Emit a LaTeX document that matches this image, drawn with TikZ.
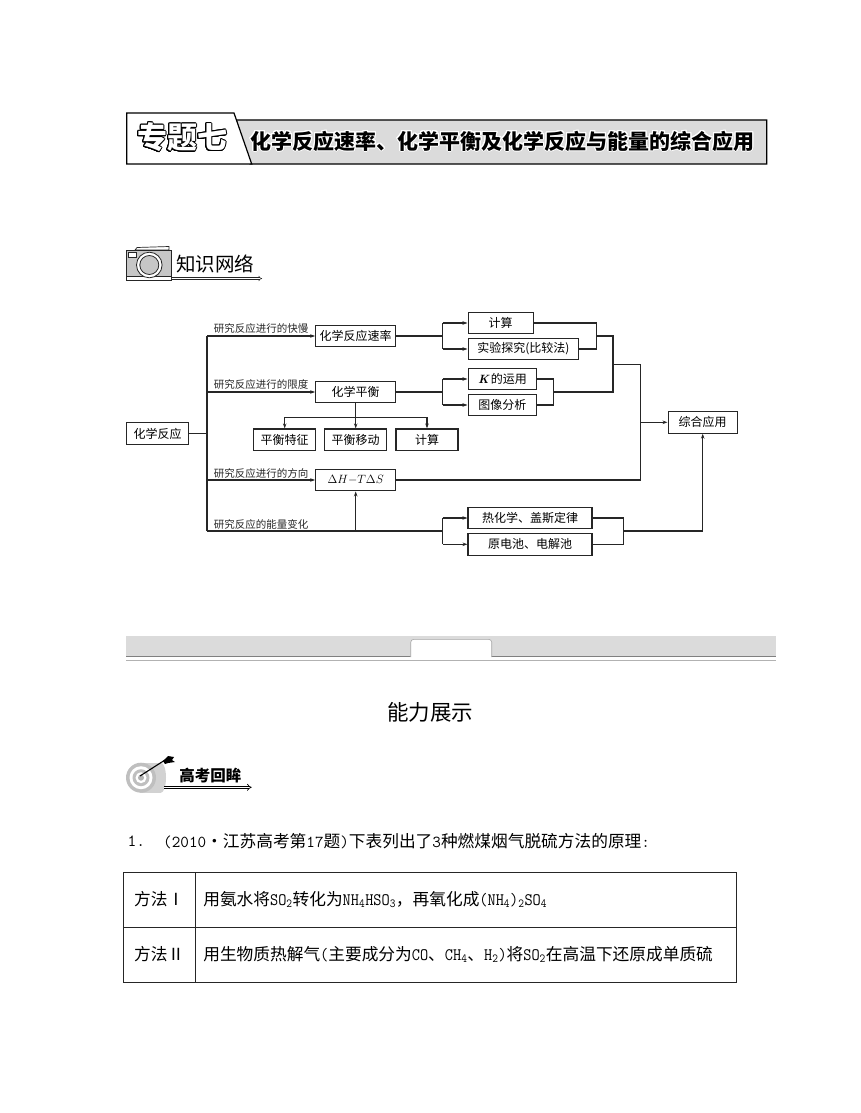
\documentclass[tikz,border=0pt]{standalone}
\usepackage{fontspec}
\usepackage[copies]{contour}
\usetikzlibrary{arrows.meta,calc}
\newfontfamily\cjk{Noto Sans CJK SC}
\definecolor{bandgray}{gray}{0.86}
\definecolor{inkgray}{gray}{0.15}
\contournumber{24}
\newcommand{\nartt}[1]{\scalebox{0.95}[1.05]{\ttfamily #1}}
\begin{document}
\begin{tikzpicture}[x=1pt,y=-1pt]
\useasboundingbox (0,0) rectangle (860,1113);
\tikzstyle{chartbox} = [rectangle,draw=inkgray,line width=1.1pt,inner sep=0pt,minimum height=21.7pt,font=\cjk\fontsize{12}{12}\selectfont]
\tikzstyle{branchlabel} = [inner sep=0pt,font=\cjk\fontsize{10.5}{10.5}\selectfont,text=inkgray]
\tikzstyle{chartline} = [draw=inkgray,line width=1.1pt]
\tikzstyle{heavyline} = [draw=inkgray,line width=1.6pt]
\tikzstyle{chartarrow} = [draw=inkgray,line width=1.1pt,-{Stealth[length=5pt,width=3.5pt]}]
\tikzstyle{tablecell} = [rectangle,draw=inkgray,line width=0.9pt,inner xsep=8pt,inner ysep=0pt,minimum height=55pt,font=\cjk\fontsize{16.7}{16.7}\selectfont]
%%%%%%%%%%%%%%%%%%%%%%%%%%%%%
% title banner
%%%%%%%%%%%%%%%%%%%%%%%%%%%%%
\draw [fill=bandgray,draw=black,line width=1.2pt] (236,120) -- (766.7,120) -- (766.7,164) -- (250,164) -- cycle;
\draw [fill=white,draw=black,line width=1.2pt] (126.7,164) -- (126.7,113) -- (234,113) -- (251.7,164) -- cycle;
\node (num) [inner sep=0pt,font=\cjk\bfseries\fontsize{30}{30}\selectfont] at (182,138){\contourlength{1pt}\contour{black}{\textcolor{white}{专题七}}};
\node (title) [inner sep=0pt,font=\cjk\bfseries\fontsize{21}{21}\selectfont] at (502.5,141.5){\contourlength{1pt}\contour{white}{化学反应速率、化学平衡及化学反应与能量的综合应用}};
%%%%%%%%%%%%%%%%%%%%%%%%%%%%%
% camera heading
%%%%%%%%%%%%%%%%%%%%%%%%%%%%%
\draw [fill=white,draw=inkgray,line width=0.7pt] (135,250) -- (137,247.5) -- (169,246.5) -- (169,250) -- cycle;
\draw [fill=gray!45,draw=inkgray,line width=0.8pt] (126.7,250) rectangle (171.7,280);
\draw [fill=white,draw=inkgray,line width=0.6pt] (126.7,276.7) rectangle (171.7,280);
\draw [fill=white,draw=inkgray,line width=0.6pt] (128.5,252.5) rectangle (136.5,257.5);
\draw [fill=white,draw=inkgray,line width=0.8pt] (149.3,265) circle (12.8);
\draw [fill=gray!45,draw=inkgray,line width=0.8pt] (149.3,265) circle (9.5);
\node (know) [inner sep=0pt,font=\cjk\fontsize{19.5}{19.5}\selectfont] at (215,263.5){知识网络};
\coordinate (knowtail) at (171.7,278.5);
\coordinate (knowhead) at (262,278.5);
\draw [double=white,double distance=1.3pt,draw=inkgray,line width=0.5pt,-{Implies}] (knowtail) -- (knowhead);
%%%%%%%%%%%%%%%%%%%%%%%%%%%%%
% left side of the chart
%%%%%%%%%%%%%%%%%%%%%%%%%%%%%
\node [chartbox,minimum width=61.6pt] (root) at (157.5,433.5){化学反应};
\coordinate (busx) at ([xshift=18.4pt]root.east);
\node [chartbox,minimum width=80pt] (rate) at (355.7,336){化学反应速率};
\node [chartbox,minimum width=80pt] (equil) at ([yshift=-56pt]rate.center){化学平衡};
\node [chartbox,minimum width=80pt] (entropy) at ([yshift=-88pt]equil.center){$\Delta H{-}T\Delta S$};
\node [chartbox,minimum width=62pt] (move) at ([yshift=-47.8pt]equil.center){平衡移动};
\node [chartbox,minimum width=62pt] (feature) at ([xshift=-71pt]move.center){平衡特征};
\node [chartbox,minimum width=62pt] (calcb) at ([xshift=71.3pt]move.center){计算};
\node [branchlabel] (l1) at (261.2,329){研究反应进行的快慢};
\node [branchlabel] (l2) at (261.2,385){研究反应进行的限度};
\node [branchlabel] (l3) at (261.2,473.3){研究反应进行的方向};
\node [branchlabel] (l4) at (261.2,524){研究反应的能量变化};
%%%%%%%%%%%%%%%%%%%%%%%%%%%%%
% right side of the chart
%%%%%%%%%%%%%%%%%%%%%%%%%%%%%
\node [chartbox,minimum width=65.3pt] (calca) at (500.7,323){计算};
\node [chartbox,minimum width=110.7pt] (expt) at (523.4,349){实验探究(比较法)};
\node [chartbox,minimum width=68.7pt] (kuse) at (502.4,379){{\rmfamily\itshape\bfseries K}\,的运用};
\node [chartbox,minimum width=68.7pt] (graph) at (502.4,405){图像分析};
\node [chartbox,minimum width=124pt] (heat) at (530,518){热化学、盖斯定律};
\node [chartbox,minimum width=124pt] (cell) at (530,544.3){原电池、电解池};
\node [chartbox,minimum width=69.3pt] (apply) at (702.7,422.3){综合应用};
\coordinate (forkx) at (442.7,0);
\coordinate (mergea) at (596.7,0);
\coordinate (mergeb) at (553.7,0);
\coordinate (mergec) at (613,364.3);
\coordinate (mergeall) at (640.3,0);
\coordinate (mergeheat) at (623.3,0);
\coordinate (busend) at ($(heat.south)!0.5!(cell.north)$);
%%%%%%%%%%%%%%%%%%%%%%%%%%%%%
% connectors
%%%%%%%%%%%%%%%%%%%%%%%%%%%%%
\draw [heavyline] (root.east) -- (busx);
\draw [heavyline] (busx |- rate.west) -- (busx |- busend);
\draw [chartarrow] (busx |- rate.west) -- (rate.west);
\draw [chartarrow] (busx |- equil.west) -- (equil.west);
\draw [chartarrow] (busx |- entropy.west) -- (entropy.west);
\draw [heavyline] (busx |- busend) -- (forkx |- busend);
\draw [chartarrow] (entropy.south |- busend) -- (entropy.south);
% down from the equilibrium box
\draw [chartline] (equil.south) -- ([yshift=-14.3pt]equil.south);
\draw [chartline] (feature.north |- 0,417.3) -- (calcb.north |- 0,417.3);
\draw [chartarrow] (feature.north |- 0,417.3) -- (feature.north);
\draw [chartarrow] (move.north |- 0,417.3) -- (move.north);
\draw [chartarrow] (calcb.north |- 0,417.3) -- (calcb.north);
% forks
\draw [heavyline] (rate.east) -- (forkx |- rate.east);
\draw [chartline] (forkx |- calca.west) -- (forkx |- expt.west);
\draw [chartarrow] (forkx |- calca.west) -- (calca.west);
\draw [chartarrow] (forkx |- expt.west) -- (expt.west);
\draw [heavyline] (equil.east) -- (forkx |- equil.east);
\draw [chartline] (forkx |- kuse.west) -- (forkx |- graph.west);
\draw [chartarrow] (forkx |- kuse.west) -- (kuse.west);
\draw [chartarrow] (forkx |- graph.west) -- (graph.west);
\draw [chartline] (forkx |- heat.west) -- (forkx |- cell.west);
\draw [chartarrow] (forkx |- heat.west) -- (heat.west);
\draw [chartarrow] (forkx |- cell.west) -- (cell.west);
% merges
\draw [chartline] (calca.east) -| (mergea |- expt.east) -- (expt.east);
\draw [chartline] (kuse.east) -| (mergeb |- graph.east) -- (graph.east);
\draw [chartline] (mergea |- rate.east) -| (mergec |- equil.east) -- (mergeb |- equil.east);
\draw [chartline] (mergec) -- (mergeall |- mergec) -- (mergeall |- entropy.east) -- (entropy.east);
\draw [chartarrow] (mergeall |- apply.west) -- (apply.west);
\draw [heavyline] (heat.east) -| (mergeheat |- cell.east) -- (cell.east);
\draw [chartarrow,line width=1.4pt] (mergeheat |- busend) -| (apply.south);
%%%%%%%%%%%%%%%%%%%%%%%%%%%%%
% tab band
%%%%%%%%%%%%%%%%%%%%%%%%%%%%%
\fill [bandgray] (126,636) rectangle (776,656.7);
\draw [gray,line width=0.6pt] (126,656.7) -- (776,656.7);
\draw [gray!60,line width=0.6pt] (126,660) -- (776,660);
\draw [fill=white,draw=gray!70,line width=0.6pt,rounded corners=3pt] (410.7,657) -- (410.7,639.3) -- (491.7,639.3) -- (491.7,657);
\node (show) [inner sep=0pt,font=\cjk\fontsize{21.5}{21.5}\selectfont] at (430,712.7){能力展示};
%%%%%%%%%%%%%%%%%%%%%%%%%%%%%
% target heading
%%%%%%%%%%%%%%%%%%%%%%%%%%%%%
\fill [gray!35] (140,762.7) rectangle (161,792.7);
\fill [gray!35] (161,777.7) ellipse (5 and 15);
\fill [gray!50] (141,777.7) circle (15);
\fill [white] (141,777.7) circle (11.5);
\fill [gray!50] (141,777.7) circle (8.5);
\fill [white] (141,777.7) circle (5.5);
\fill [gray!60] (141,777.7) circle (3);
\coordinate (darttip) at (140,776);
\coordinate (dartend) at (165,760);
\draw [black,line width=1.1pt] (darttip) -- (dartend);
\fill [black] (163,761) -- (168,756) -- (174,757) -- (172,760) -- (175,762) -- (168,763) -- (165,764) -- cycle;
\node (recall) [inner sep=0pt,font=\cjk\bfseries\fontsize{15.5}{15.5}\selectfont] at (210.3,776){高考回眸};
\coordinate (recalltail) at (164,787.3);
\coordinate (recallhead) at (251.7,787.3);
\draw [double=white,double distance=1.6pt,draw=black,line width=0.7pt,-{Implies}] (recalltail) -- (recallhead);
%%%%%%%%%%%%%%%%%%%%%%%%%%%%%
% question and table
%%%%%%%%%%%%%%%%%%%%%%%%%%%%%
\node (qnum) [anchor=west,inner sep=0pt,font=\ttfamily\fontsize{17}{17}\selectfont] at (127.5,840.7){1.};
\node (qtext) [anchor=west,inner sep=0pt,font=\cjk\fontsize{16.7}{16.7}\selectfont] at (163,840.7){{\ttfamily (2010}・江苏高考第{\ttfamily 17}题{\ttfamily )}下表列出了{\ttfamily 3}种燃煤烟气脱硫方法的原理{\ttfamily :}};
\node [tablecell,minimum width=72.3pt] (m1) at (159.15,900.2){\raisebox{4pt}{方法Ⅰ}};
\node [tablecell,minimum width=541.4pt,text width=525.4pt,align=left] (t1) at (466,900.2){\raisebox{4pt}{用氨水将\nartt{SO\textsubscript{2}}转化为\nartt{NH\textsubscript{4}HSO\textsubscript{3}}，再氧化成\nartt{(NH\textsubscript{4})\textsubscript{2}SO\textsubscript{4}}}};
\node [tablecell,minimum width=72.3pt] (m2) at (159.15,955){\raisebox{4pt}{方法Ⅱ}};
\node [tablecell,minimum width=541.4pt,text width=525.4pt,align=left] (t2) at (466,955){\raisebox{4pt}{用生物质热解气\nartt{(}主要成分为\nartt{CO}、\nartt{CH\textsubscript{4}}、\nartt{H\textsubscript{2})}将\nartt{SO\textsubscript{2}}在高温下还原成单质硫}};
\end{tikzpicture}
\end{document}
